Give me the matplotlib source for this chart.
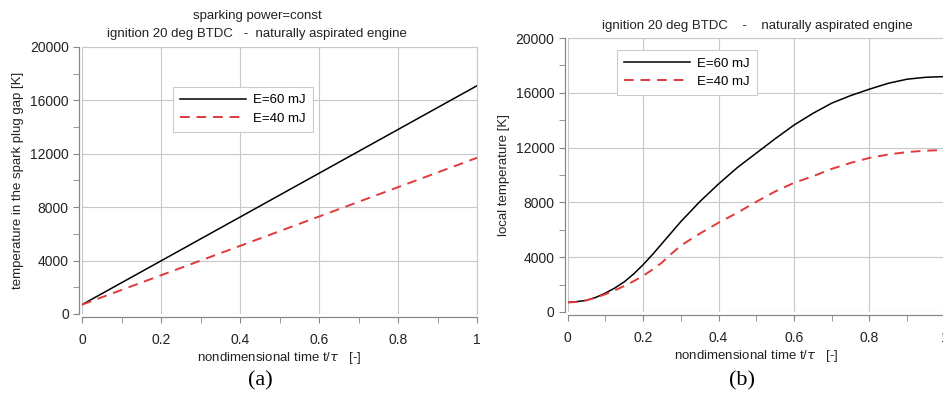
import numpy as np
import matplotlib
matplotlib.use("Agg")
import matplotlib.pyplot as plt
from matplotlib.ticker import MultipleLocator

plt.rcParams['font.family'] = ['Liberation Sans', 'DejaVu Sans']

# (a) spark plug gap temperature, linear growth
t_a = [0.0, 1.0]
T60_a = [700, 17100]
T40_a = [700, 11700]

# (b) local temperature
t_b = [0.0, 0.025, 0.05, 0.075, 0.1, 0.125, 0.15, 0.175, 0.2, 0.225, 0.25, 0.275,
       0.3, 0.35, 0.4, 0.45, 0.5, 0.55, 0.6, 0.65, 0.7, 0.75, 0.8, 0.85, 0.9, 0.95, 1.0]
T60_b = [700, 760, 850, 1070, 1380, 1750, 2200, 2780, 3450, 4200, 5000, 5800,
         6600, 8050, 9350, 10550, 11600, 12650, 13650, 14500, 15250, 15800, 16270,
         16700, 17000, 17140, 17190]
T40_b = [700, 730, 850, 1050, 1300, 1580, 1900, 2250, 2640, 3100, 3610, 4250,
         4850, 5720, 6520, 7250, 8050, 8800, 9430, 9910, 10450, 10890, 11250,
         11500, 11680, 11780, 11830]

labels = ["E=60 mJ", "E=40 mJ"]
red = "#e03a3a"
grid_c = "#c8c8c8"


def style_axes(ax):
    ax.set_xlim(0, 1)
    ax.set_ylim(0, 20000)
    ax.xaxis.set_major_locator(MultipleLocator(0.2))
    ax.xaxis.set_minor_locator(MultipleLocator(0.1))
    ax.yaxis.set_major_locator(MultipleLocator(4000))
    ax.yaxis.set_minor_locator(MultipleLocator(2000))
    ax.set_xticks([0, 0.2, 0.4, 0.6, 0.8, 1.0])
    ax.set_xticklabels(["0", "0.2", "0.4", "0.6", "0.8", "1"])
    ax.grid(True, which="major", color=grid_c, lw=0.8)
    ax.tick_params(which="both", direction="out", length=4, color="#888888",
                   labelsize=10, labelcolor="#222222")
    ax.tick_params(axis="x", pad=8)
    for s in ["top", "right"]:
        ax.spines[s].set_color(grid_c)
        ax.spines[s].set_linewidth(0.8)
    for s in ["left", "bottom"]:
        ax.spines[s].set_color("#888888")
        ax.spines[s].set_linewidth(0.9)
        ax.spines[s].set_position(("outward", 2))
    ax.set_xlabel("nondimensional time t/$\\tau$   [-]", fontsize=9.5, color="#222222", labelpad=2)


def add_legend(ax, anchor):
    leg = ax.legend(loc="upper left", bbox_to_anchor=anchor, fontsize=9.5,
                    fancybox=False, framealpha=1, edgecolor="#cccccc",
                    handlelength=5.0, handletextpad=0.5, borderpad=0.55,
                    labelspacing=0.45, borderaxespad=0)
    leg.get_frame().set_linewidth(0.8)


fig = plt.figure(figsize=(9.43, 4.01), dpi=100)
ax1 = fig.add_axes([0.087, 0.217, 0.419, 0.666])
ax2 = fig.add_axes([0.602, 0.222, 0.400, 0.683])

ax1.plot(t_a, T60_a, color="black", lw=1.1, label=labels[0])
ax1.plot(t_a, T40_a, color=red, lw=1.4, dashes=(5, 3.5), label=labels[1])
style_axes(ax1)
ax1.set_ylabel("temperature in the spark plug gap [K]", fontsize=9.5, color="#222222", labelpad=4)
add_legend(ax1, (0.23, 0.85))

ax2.plot(t_b, T60_b, color="black", lw=1.1, label=labels[0])
ax2.plot(t_b, T40_b, color=red, lw=1.4, dashes=(5, 3.5), label=labels[1])
style_axes(ax2)
ax2.set_ylabel("local temperature [K]", fontsize=9.5, color="#222222", labelpad=4)
add_legend(ax2, (0.131, 0.956))

fig.text(257 / 943, 1 - 16 / 401, "sparking power=const", ha="center", va="center",
         fontsize=9.5, color="#222222")
fig.text(257 / 943, 1 - 34 / 401, "ignition 20 deg BTDC   -  naturally aspirated engine",
         ha="center", va="center", fontsize=9.5, color="#222222")
fig.text(757 / 943, 1 - 26 / 401, "ignition 20 deg BTDC    -    naturally aspirated engine",
         ha="center", va="center", fontsize=9.5, color="#222222")

fig.text(260 / 943, 1 - 381 / 401, "(a)", ha="center", va="center", fontsize=16,
         family="Liberation Serif")
fig.text(742 / 943, 1 - 381 / 401, "(b)", ha="center", va="center", fontsize=16,
         family="Liberation Serif")

fig.savefig("out.png", dpi=100)
